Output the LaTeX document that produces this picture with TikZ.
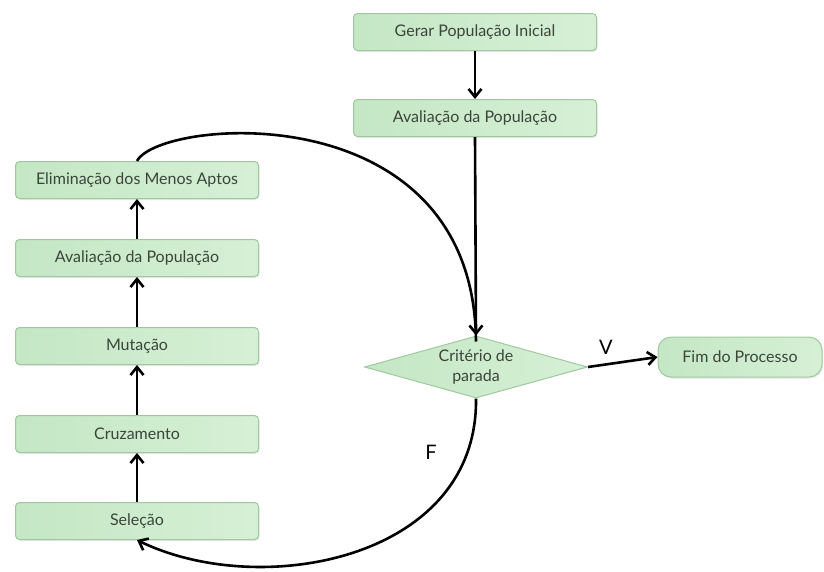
\documentclass[tikz,border=0pt]{standalone}
\usepackage{fontspec}
\setmainfont{Lato}
\usetikzlibrary{shapes.geometric,arrows.meta,shadows}
\definecolor{boxfill}{RGB}{196,231,196}
\definecolor{boxfillr}{RGB}{214,240,214}
\definecolor{boxline}{RGB}{160,200,160}
\definecolor{boxtext}{RGB}{60,68,60}
\tikzset{
  box/.style={draw=boxline, line width=1pt, rounded corners=4pt, left color=boxfill, right color=boxfillr,
    minimum width=243pt, minimum height=37pt, inner sep=0pt, text=boxtext, font=\fontsize{16}{18}\selectfont,
    drop shadow={opacity=0.18, shadow xshift=1pt, shadow yshift=-1.5pt}},
  endbox/.style={box, rounded corners=13pt, minimum width=164pt, minimum height=40pt},
  decision/.style={diamond, draw=boxline, line width=1pt, left color=boxfill, right color=boxfillr,
    minimum width=223pt, minimum height=62pt, inner sep=0pt},
  dtext/.style={text=boxtext, align=center, font=\fontsize{16}{20}\selectfont},
  flow/.style={line width=2.6pt, -{Straight Barb[length=8pt,width=13pt,line width=2.6pt]}},
  plain/.style={line width=2.6pt},
  lbl/.style={font=\fontsize{20}{22}\selectfont, text=black}
}
\begin{document}
\begin{tikzpicture}[x=1pt,y=-1pt]
\path[use as bounding box] (0,0) rectangle (824,571);
\node[box] (ger) at (475,32) {Gerar População Inicial};
\node[box] (av1) at (475,118) {Avaliação da População};
\node[box] (eli) at (137,180) {Eliminação dos Menos Aptos};
\node[box] (av2) at (137,258) {Avaliação da População};
\node[box] (mut) at (137,346) {Mutação};
\node[box] (cru) at (137,434) {Cruzamento};
\node[box] (sel) at (137,521) {Seleção};
\node[decision] (dec) at (476,367) {};
\node[dtext] (dect) at (dec.center) {Critério de\\parada};
\node[endbox] (fim) at (740,357) {Fim do Processo};
\draw[flow] (ger) -- (av1);
\draw[flow] (av1.south) -- (dec.north);
\draw[flow] (sel) -- (cru);
\draw[flow] (cru) -- (mut);
\draw[flow] (mut) -- (av2);
\draw[flow] (av2) -- (eli);
\draw[plain] (eli.north) .. controls (160,118) and (474,92) .. ([yshift=-6pt]dec.north);
\draw[flow] (dec.east) -- (fim.west);
\draw[flow] (dec.south) .. controls (478,560) and (260,600) .. (sel.south);
\node[lbl] (v) at (606,347) {V};
\node[lbl] (f) at (431,452) {F};
\end{tikzpicture}
\end{document}
